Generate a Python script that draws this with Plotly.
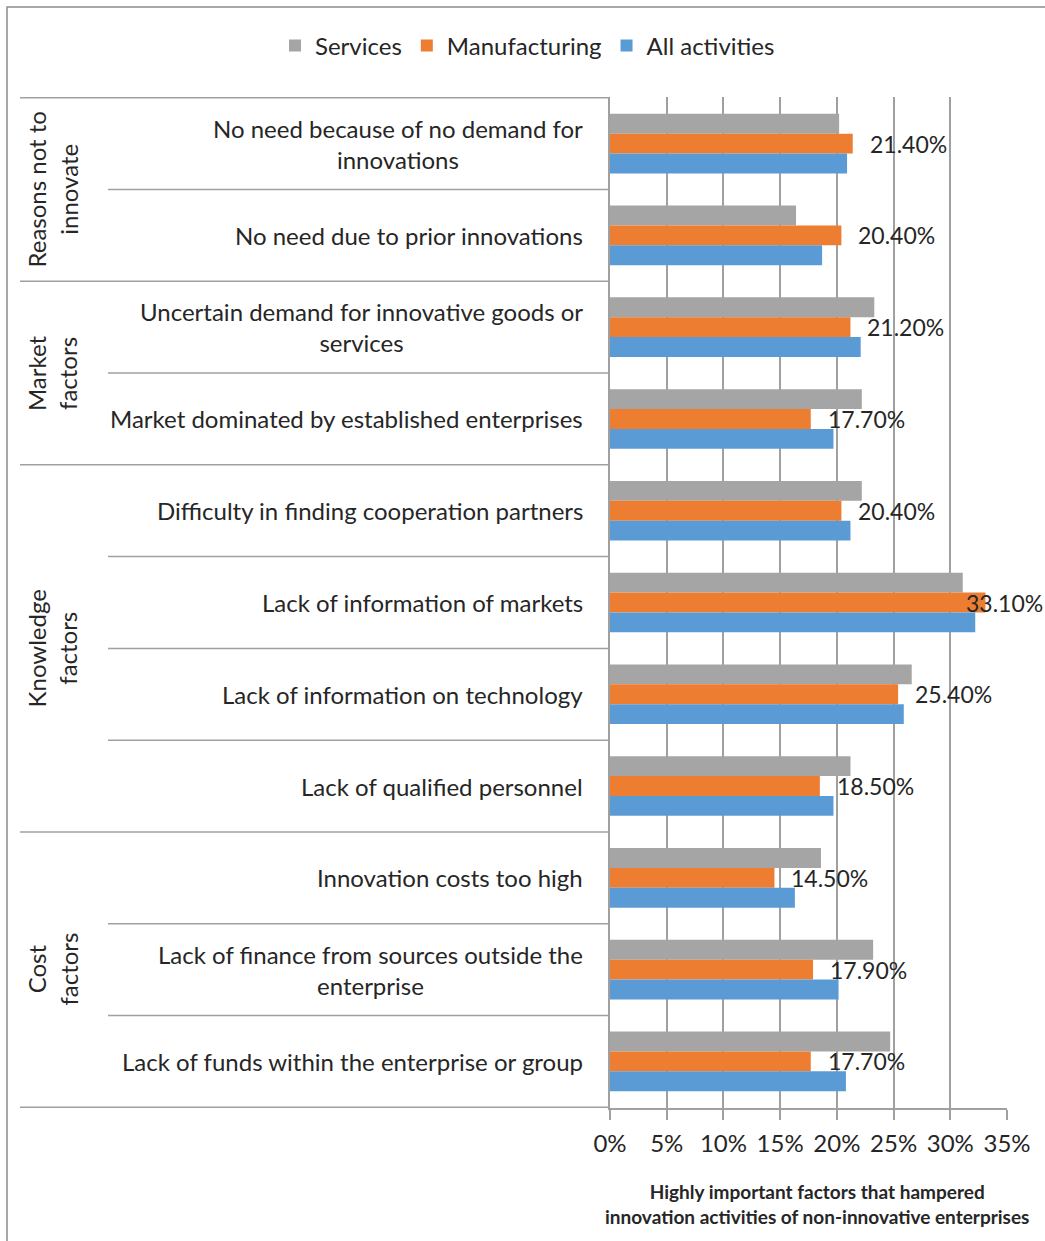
import plotly.graph_objects as go

# ---------------- data ----------------
categories = [
    "No need because of no demand for<br>innovations",
    "No need due to prior innovations",
    "Uncertain demand for innovative goods or<br>services",
    "Market dominated by established enterprises",
    "Difficulty in finding cooperation partners",
    "Lack of information of markets",
    "Lack of information on technology",
    "Lack of qualified personnel",
    "Innovation costs too high",
    "Lack of finance from sources outside the<br>enterprise",
    "Lack of funds within the enterprise or group",
]
groups = ["Reasons not to<br>innovate", "Market<br>factors", "Knowledge<br>factors", "Cost<br>factors"]
group_sizes = [2, 2, 4, 3]

services = [20.2, 16.4, 23.3, 22.2, 22.2, 31.1, 26.6, 21.2, 18.6, 23.2, 24.7]
manufacturing = [21.4, 20.4, 21.2, 17.7, 20.4, 33.1, 25.4, 18.5, 14.5, 17.9, 17.7]
all_activities = [20.9, 18.7, 22.1, 19.7, 21.2, 32.2, 25.9, 19.7, 16.3, 20.15, 20.8]

x_ticks = [0, 5, 10, 15, 20, 25, 30, 35]
x_tick_labels = ["0%", "5%", "10%", "15%", "20%", "25%", "30%", "35%"]

series_names = ["Services", "Manufacturing", "All activities"]
colors = ["#A5A5A5", "#ED7D31", "#5B9BD5"]

x_title = "Highly important factors that hampered<br>innovation activities of non-innovative enterprises"

# ---------------- layout constants ----------------
W, H = 1045, 1241
ML, MR, MT, MB = 610, 38, 97, 133
PW = W - ML - MR
PH = H - MT - MB
FONT = "Lato, 'Open Sans', sans-serif"
TXT = "#262626"
LINE = "#A0A0A0"
FS = 24


def px_x(px):
    return (px - ML) / PW


def px_y(py):
    return (H - MB - py) / PH


fig = go.Figure()
for name, vals, col in zip(series_names, [services, manufacturing, all_activities], colors):
    fig.add_trace(go.Bar(
        y=categories, x=vals, name=name, orientation="h",
        marker=dict(color=col, line=dict(width=0)),
        hoverinfo="x+y+name",
    ))

annotations = []
shapes = []

# category labels
for i, c in enumerate(categories):
    annotations.append(dict(
        x=0, xref="paper", y=i, yref="y", text=c, showarrow=False,
        xanchor="right", yanchor="middle", xshift=-25, align="center",
        font=dict(family=FONT, size=FS, color=TXT),
    ))

# data labels on manufacturing (kept inside the chart's right edge)
xmax = x_ticks[-1]
lab_w = 78
for i, v in enumerate(manufacturing):
    bar_px = ML + v / xmax * PW
    shift = 15
    if bar_px + shift + lab_w > W - 3:
        shift = W - 3 - lab_w - bar_px
    annotations.append(dict(
        x=v, xref="x", y=i, yref="y", text=f"{v:.2f}%", showarrow=False,
        xanchor="left", yanchor="middle", xshift=shift,
        font=dict(family=FONT, size=23, color=TXT),
    ))

# group labels and separators
start = 0
left_px = 20
inner_px = 108
for g, n in zip(groups, group_sizes):
    center = start + (n - 1) / 2
    annotations.append(dict(
        x=px_x(52), xref="paper", y=center, yref="y", text=g, showarrow=False,
        textangle=-90, xanchor="center", yanchor="middle", align="center",
        font=dict(family=FONT, size=FS, color=TXT),
    ))
    shapes.append(dict(type="line", xref="paper", yref="y",
                       x0=px_x(left_px), x1=0, y0=start - 0.5, y1=start - 0.5,
                       line=dict(color=LINE, width=1.5)))
    for k in range(1, n):
        yy = start + k - 0.5
        shapes.append(dict(type="line", xref="paper", yref="y",
                           x0=px_x(inner_px), x1=0, y0=yy, y1=yy,
                           line=dict(color=LINE, width=1.5)))
    start += n
shapes.append(dict(type="line", xref="paper", yref="y",
                   x0=px_x(left_px), x1=0, y0=start - 0.5, y1=start - 0.5,
                   line=dict(color=LINE, width=1.5)))

# outer chart border
shapes.append(dict(type="rect", xref="paper", yref="paper",
                   x0=px_x(7), x1=px_x(W + 20), y0=px_y(H + 20), y1=px_y(7),
                   line=dict(color="#8C8C8C", width=1.5), fillcolor="rgba(0,0,0,0)"))

# x-axis title
annotations.append(dict(
    x=px_x(817), xref="paper", y=px_y(1204), yref="paper", text=f"<b>{x_title}</b>",
    showarrow=False, xanchor="center", yanchor="middle", align="center",
    font=dict(family=FONT, size=19, color=TXT),
))

fig.update_layout(
    width=W, height=H,
    margin=dict(l=ML, r=MR, t=MT, b=MB, pad=0),
    paper_bgcolor="white", plot_bgcolor="white",
    barmode="group", bargap=0.35, bargroupgap=0,
    font=dict(family=FONT, size=FS, color=TXT),
    legend=dict(
        orientation="h", xref="paper", yref="paper",
        x=px_x(275), y=px_y(46), xanchor="left", yanchor="middle",
        font=dict(family=FONT, size=FS, color=TXT),
        itemwidth=30, tracegroupgap=0,
    ),
    xaxis=dict(
        range=[0, xmax], tickvals=x_ticks, ticktext=x_tick_labels,
        showgrid=True, gridcolor=LINE, gridwidth=1.5, zeroline=False,
        showline=True, linecolor=LINE, linewidth=1.5,
        ticks="outside", ticklen=10, tickcolor=LINE, tickwidth=1.5,
        ticklabelstandoff=3,
        tickfont=dict(family=FONT, size=FS, color=TXT),
        fixedrange=True,
    ),
    yaxis=dict(
        categoryorder="array", categoryarray=categories,
        autorange="reversed", showticklabels=False,
        showgrid=False, zeroline=False,
        showline=True, linecolor=LINE, linewidth=1.5,
        ticks="", fixedrange=True,
    ),
    annotations=annotations, shapes=shapes,
)

fig.write_html("out.html", config={"displayModeBar": False},
               post_script="document.body.style.margin='0';")
